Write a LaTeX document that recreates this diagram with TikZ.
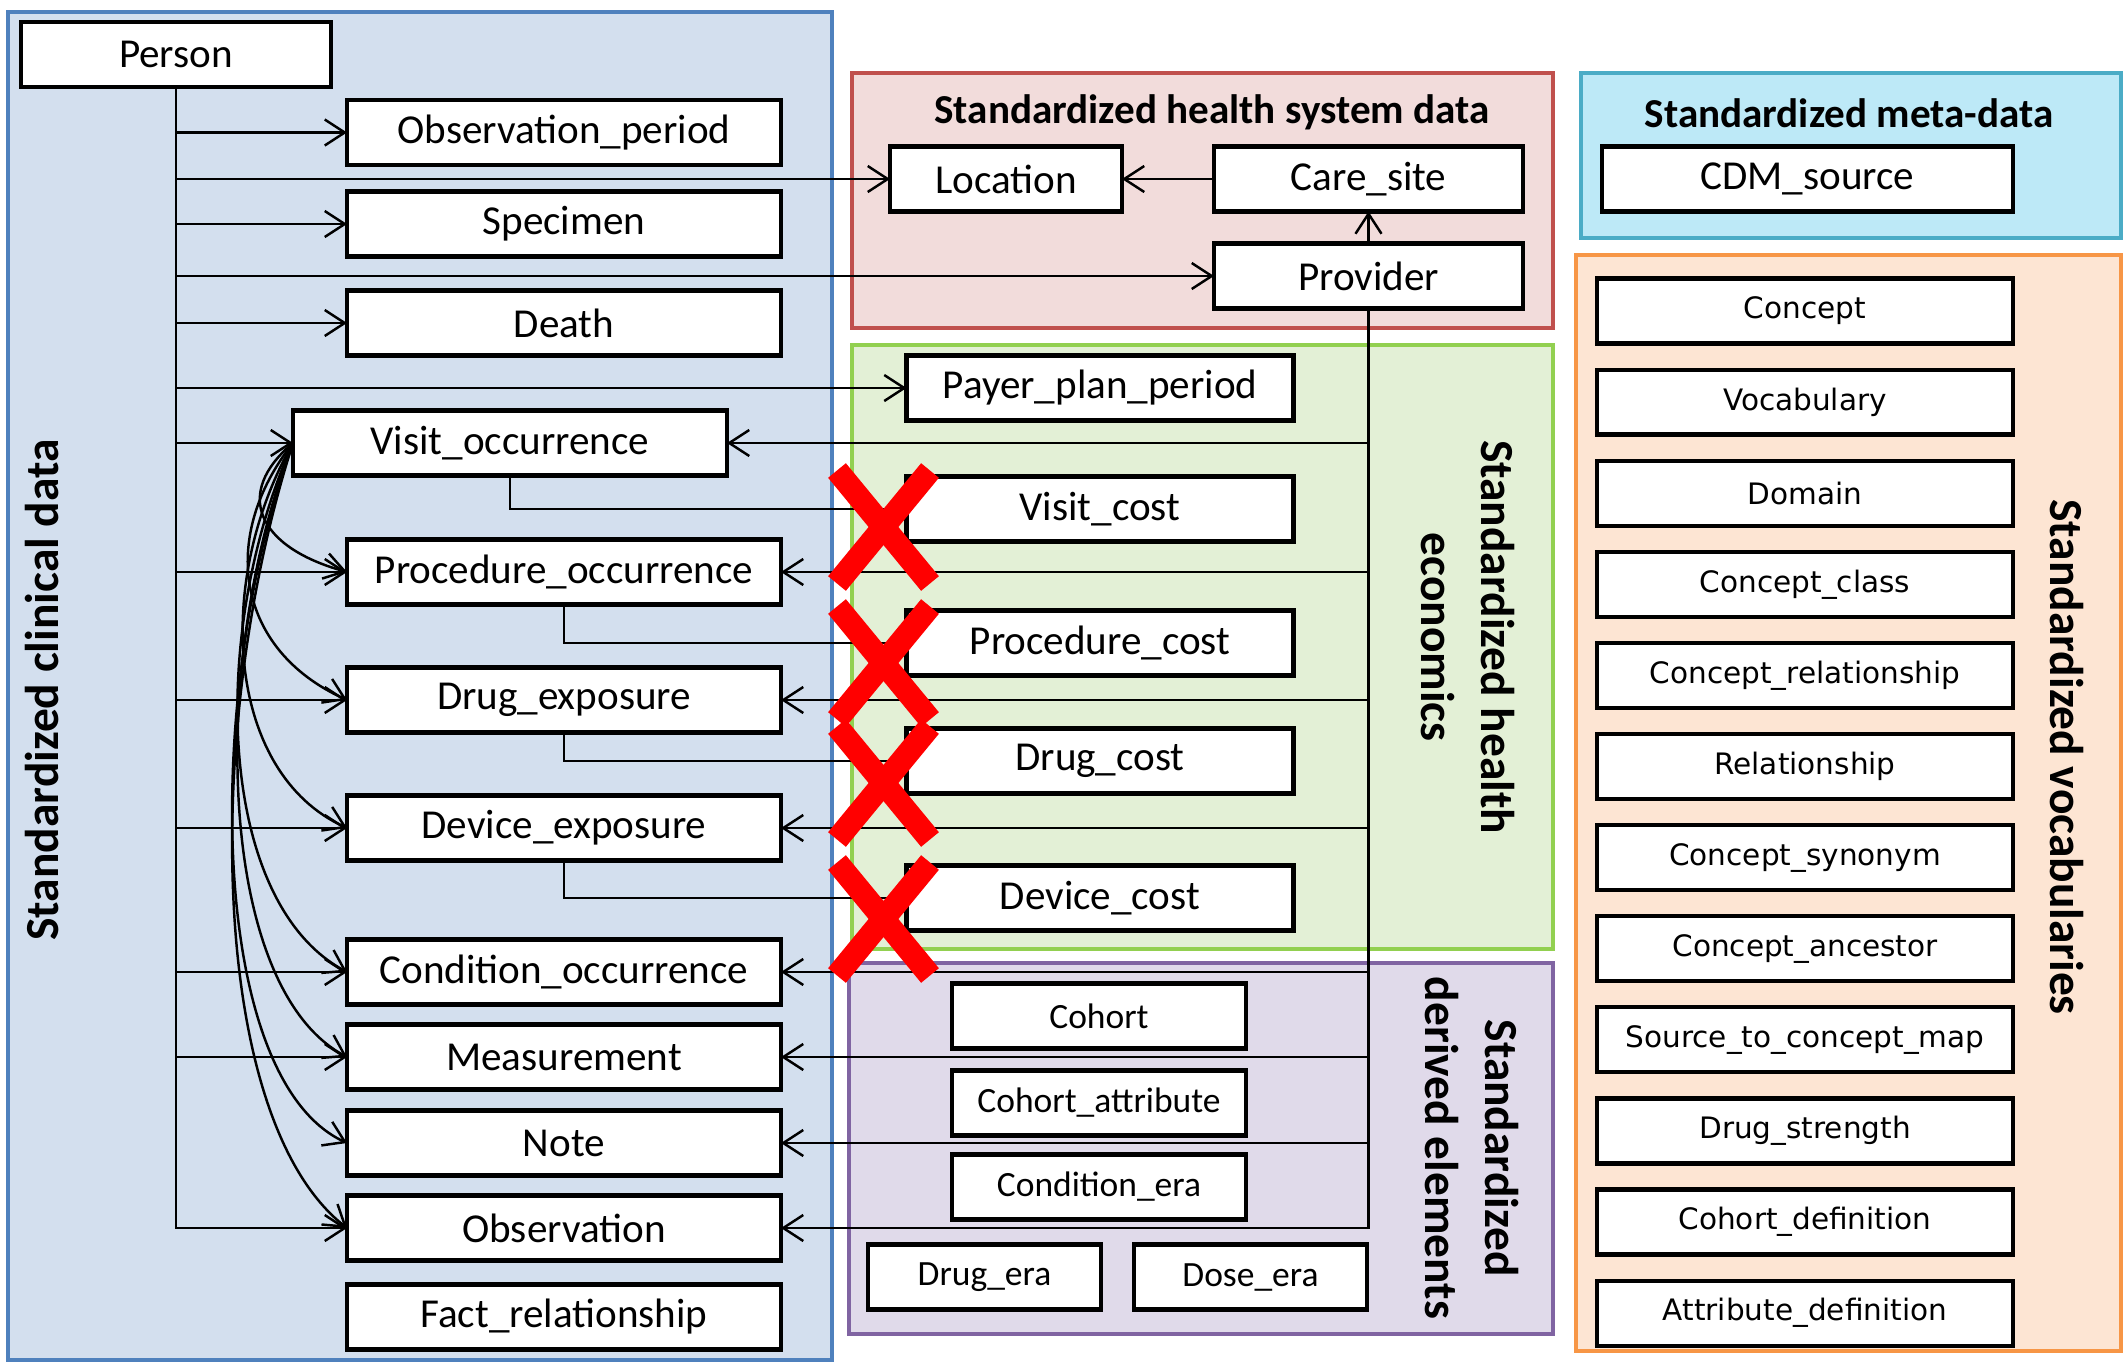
\documentclass[tikz,border=0pt]{standalone}
\usepackage{fontspec}
\setmainfont{Carlito}
\newfontfamily\vocabfamily{DejaVu Sans}
\usetikzlibrary{shapes.misc,arrows.meta,positioning,calc}
\definecolor{clinfill}{RGB}{211,223,238}
\definecolor{clinline}{RGB}{79,129,189}
\definecolor{sysfill}{RGB}{242,220,219}
\definecolor{sysline}{RGB}{192,80,77}
\definecolor{econfill}{RGB}{227,240,214}
\definecolor{econline}{RGB}{146,208,80}
\definecolor{derivfill}{RGB}{224,218,234}
\definecolor{derivline}{RGB}{128,100,162}
\definecolor{metafill}{RGB}{189,233,247}
\definecolor{metaline}{RGB}{75,172,198}
\definecolor{vocabfill}{RGB}{253,229,211}
\definecolor{vocabline}{RGB}{247,150,70}
\definecolor{crossred}{RGB}{255,0,0}

\begin{document}
\begin{tikzpicture}[
    node distance=0.261cm,
    entity/.style={rectangle, draw, line width=1.2pt, fill=white, minimum width=4.34cm, minimum height=0.65cm, inner sep=1pt, outer sep=0pt, font=\fontsize{11.7}{14}\selectfont},
    cost/.style={entity, minimum width=3.87cm},
    derived/.style={entity, minimum width=2.94cm, font=\fontsize{10.1}{12}\selectfont},
    era/.style={entity, minimum width=2.33cm, font=\fontsize{10.1}{12}\selectfont},
    vocab/.style={entity, minimum width=4.16cm, font=\vocabfamily\fontsize{8.4}{10}\selectfont},
    panel/.style={line width=1.2pt},
    heading/.style={font=\bfseries\fontsize{11.7}{14}\selectfont},
    sidehead/.style={font=\bfseries\fontsize{13.5}{17}\selectfont, align=center},
    arrow/.style={-{Straight Barb[length=2mm,width=2.6mm]}, line width=0.7pt},
    link/.style={line width=0.7pt},
    dropped/.style={cross out, draw=crossred, line width=2.3mm, minimum width=0.7cm, minimum height=0.9cm, inner sep=0pt}
]
\useasboundingbox (0,0) rectangle (21.26,-13.62);

% Panels
\draw[panel, draw=clinline, fill=clinfill] (0.08,-0.12) rectangle (8.32,-13.60);
\draw[panel, draw=sysline, fill=sysfill] (8.52,-0.73) rectangle (15.53,-3.28);
\draw[panel, draw=econline, fill=econfill] (8.52,-3.45) rectangle (15.53,-9.49);
\draw[panel, draw=derivline, fill=derivfill] (8.49,-9.63) rectangle (15.53,-13.34);
\draw[panel, draw=metaline, fill=metafill] (15.81,-0.73) rectangle (21.21,-2.38);
\draw[panel, draw=vocabline, fill=vocabfill] (15.76,-2.55) rectangle (21.21,-13.51);

% Panel titles
\node[sidehead, rotate=90] (clintitle) at (0.42,-6.90) {Standardized clinical data};
\node[heading] (systitle) at (12.12,-1.12) {Standardized health system data};
\node[heading] (metatitle) at (18.49,-1.13) {Standardized meta-data};
\node[sidehead, rotate=-90] (econtitle) at (14.68,-6.37) {Standardized health\\economics};
\node[sidehead, rotate=-90] (derivtitle) at (14.72,-11.48) {Standardized\\derived elements};
\node[sidehead, rotate=-90] (vocabtitle) at (20.67,-7.57) {Standardized vocabularies};

% Clinical data
\node[entity, minimum width=3.1cm] (person) at (1.76,-0.545) {Person};
\node[entity] (obsperiod) at (5.64,-1.325) {Observation\_period};
\node[entity, below=0.265cm of obsperiod] (specimen) {Specimen};
\node[entity, below=0.34cm of specimen] (death) {Death};
\node[entity] (visit) at (5.10,-4.43) {Visit\_occurrence};
\node[entity] (procedure) at (5.64,-5.72) {Procedure\_occurrence};
\node[entity, below=0.63cm of procedure] (drug) {Drug\_exposure};
\node[entity, below=0.63cm of drug] (device) {Device\_exposure};
\node[entity, below=0.79cm of device] (condition) {Condition\_occurrence};
\node[entity, below=0.2cm of condition] (measurement) {Measurement};
\node[entity, below=0.21cm of measurement] (note) {Note};
\node[entity, below=0.2cm of note] (observation) {Observation};
\node[entity, below=0.24cm of observation] (factrel) {Fact\_relationship};

% Health system data
\node[entity, minimum width=2.32cm] (location) at (10.06,-1.79) {Location};
\node[entity, minimum width=3.09cm] (caresite) at (13.685,-1.79) {Care\_site};
\node[entity, minimum width=3.09cm, below=0.32cm of caresite] (provider) {Provider};

% Health economics
\node[cost] (payer) at (11.0,-3.88) {Payer\_plan\_period};
\node[cost, below=0.56cm of payer] (visitcost) {Visit\_cost};
\node[cost, below=0.69cm of visitcost] (proccost) {Procedure\_cost};
\node[cost, below=0.53cm of proccost] (drugcost) {Drug\_cost};
\node[cost, below=0.72cm of drugcost] (devicecost) {Device\_cost};

% Derived elements
\node[derived] (cohort) at (10.99,-10.16) {Cohort};
\node[derived, below=0.22cm of cohort] (cohortattr) {Cohort\_attribute};
\node[derived, below=0.19cm of cohortattr] (condera) {Condition\_era};
\node[era] (drugera) at (9.845,-12.77) {Drug\_era};
\node[era, right=0.33cm of drugera] (doseera) {Dose\_era};

% Meta-data
\node[entity, minimum width=4.11cm] (cdmsource) at (18.075,-1.79) {CDM\_source};

% Vocabularies
\node[vocab] (concept) at (18.05,-3.11) {Concept};
\node[vocab, below=of concept] (vocabulary) {Vocabulary};
\node[vocab, below=of vocabulary] (domain) {Domain};
\node[vocab, below=of domain] (conceptclass) {Concept\_class};
\node[vocab, below=of conceptclass] (conceptrel) {Concept\_relationship};
\node[vocab, below=of conceptrel] (relationship) {Relationship};
\node[vocab, below=of relationship] (synonym) {Concept\_synonym};
\node[vocab, below=of synonym] (ancestor) {Concept\_ancestor};
\node[vocab, below=of ancestor] (sourcemap) {Source\_to\_concept\_map};
\node[vocab, below=of sourcemap] (strength) {Drug\_strength};
\node[vocab, below=of strength] (cohortdef) {Cohort\_definition};
\node[vocab, below=of cohortdef] (attrdef) {Attribute\_definition};

% Person links
\draw[arrow] (person.south |- obsperiod.west) -- (obsperiod.west);
\draw[arrow] (person.south |- location.west) -- (location.west);
\draw[arrow] (person.south |- specimen.west) -- (specimen.west);
\draw[arrow] (person.south |- provider.west) -- (provider.west);
\draw[arrow] (person.south |- death.west) -- (death.west);
\draw[arrow] (person.south |- payer.west) -- (payer.west);
\draw[arrow] (person.south |- visit.west) -- (visit.west);
\draw[arrow] (person.south |- procedure.west) -- (procedure.west);
\draw[arrow] (person.south |- drug.west) -- (drug.west);
\draw[arrow] (person.south |- device.west) -- (device.west);
\draw[arrow] (person.south |- condition.west) -- (condition.west);
\draw[arrow] (person.south |- measurement.west) -- (measurement.west);
\draw[arrow] (person.south) |- (observation.west);

% Visit links
\draw[arrow] (visit.west) .. controls +(-0.6,-0.5) and +(-0.9,0.25) .. (procedure.west);
\draw[arrow] (visit.west) .. controls +(-0.75,-0.95) and +(-1.1,0.5) .. (drug.west);
\draw[arrow] (visit.west) .. controls +(-0.8,-1.4) and +(-1.2,0.55) .. (device.west);
\draw[arrow] (visit.west) .. controls +(-0.85,-1.9) and +(-1.3,0.7) .. (condition.west);
\draw[arrow] (visit.west) .. controls +(-0.85,-2.2) and +(-1.3,0.7) .. (measurement.west);
\draw[arrow] (visit.west) .. controls +(-0.9,-2.5) and +(-1.4,0.65) .. (note.west);
\draw[arrow] (visit.west) .. controls +(-0.9,-2.8) and +(-1.4,1.1) .. (observation.west);

% Provider links
\draw[arrow] (provider) -- (caresite);
\draw[arrow] (caresite) -- (location);
\draw[arrow] (provider.south) |- (observation.east);
\draw[arrow] (provider.south |- visit.east) -- (visit.east);
\draw[arrow] (provider.south |- procedure.east) -- (procedure.east);
\draw[arrow] (provider.south |- drug.east) -- (drug.east);
\draw[arrow] (provider.south |- device.east) -- (device.east);
\draw[arrow] (provider.south |- condition.east) -- (condition.east);
\draw[arrow] (provider.south |- measurement.east) -- (measurement.east);
\draw[arrow] (provider.south |- note.east) -- (note.east);

% Cost links
\draw[link] (visit.south) |- (visitcost.west);
\draw[link] (procedure.south) |- (proccost.west);
\draw[link] (drug.south) |- (drugcost.west);
\draw[link] (device.south) |- (devicecost.west);

% Dropped cost tables
\node[dropped] (xvisit) at ($(visitcost.west)+(-0.23,-0.18)$) {};
\node[dropped] (xproc) at ($(proccost.west)+(-0.23,-0.2)$) {};
\node[dropped] (xdrug) at ($(drugcost.west)+(-0.23,-0.22)$) {};
\node[dropped] (xdevice) at ($(devicecost.west)+(-0.23,-0.21)$) {};

\end{tikzpicture}
\end{document}
